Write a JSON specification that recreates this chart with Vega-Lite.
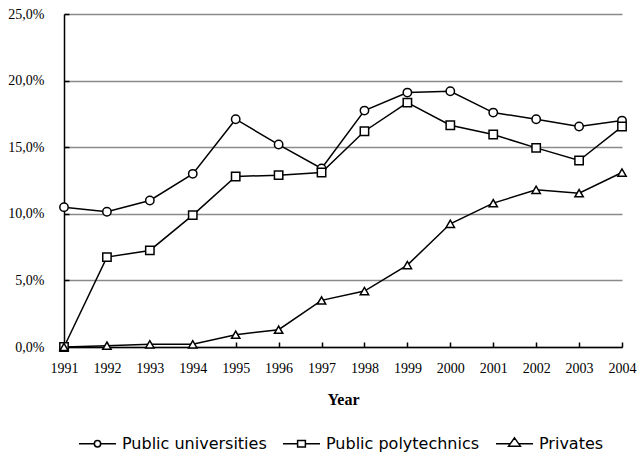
{
  "$schema": "https://vega.github.io/schema/vega-lite/v6.json",
  "autosize": "none",
  "padding": {"left": 64, "top": 14, "right": 18, "bottom": 110},
  "width": 558,
  "height": 333,
  "background": "white",
  "data": {"values": [
    {"year": 1991, "series": "Public universities", "value": 0.105},
    {"year": 1992, "series": "Public universities", "value": 0.1015},
    {"year": 1993, "series": "Public universities", "value": 0.110},
    {"year": 1994, "series": "Public universities", "value": 0.130},
    {"year": 1995, "series": "Public universities", "value": 0.171},
    {"year": 1996, "series": "Public universities", "value": 0.152},
    {"year": 1997, "series": "Public universities", "value": 0.134},
    {"year": 1998, "series": "Public universities", "value": 0.1775},
    {"year": 1999, "series": "Public universities", "value": 0.191},
    {"year": 2000, "series": "Public universities", "value": 0.192},
    {"year": 2001, "series": "Public universities", "value": 0.176},
    {"year": 2002, "series": "Public universities", "value": 0.171},
    {"year": 2003, "series": "Public universities", "value": 0.1655},
    {"year": 2004, "series": "Public universities", "value": 0.170},
    {"year": 1991, "series": "Public polytechnics", "value": 0.0},
    {"year": 1992, "series": "Public polytechnics", "value": 0.0675},
    {"year": 1993, "series": "Public polytechnics", "value": 0.0725},
    {"year": 1994, "series": "Public polytechnics", "value": 0.099},
    {"year": 1995, "series": "Public polytechnics", "value": 0.128},
    {"year": 1996, "series": "Public polytechnics", "value": 0.129},
    {"year": 1997, "series": "Public polytechnics", "value": 0.131},
    {"year": 1998, "series": "Public polytechnics", "value": 0.162},
    {"year": 1999, "series": "Public polytechnics", "value": 0.1835},
    {"year": 2000, "series": "Public polytechnics", "value": 0.1665},
    {"year": 2001, "series": "Public polytechnics", "value": 0.1595},
    {"year": 2002, "series": "Public polytechnics", "value": 0.1495},
    {"year": 2003, "series": "Public polytechnics", "value": 0.140},
    {"year": 2004, "series": "Public polytechnics", "value": 0.1655},
    {"year": 1991, "series": "Privates", "value": 0.0},
    {"year": 1992, "series": "Privates", "value": 0.001},
    {"year": 1993, "series": "Privates", "value": 0.002},
    {"year": 1994, "series": "Privates", "value": 0.002},
    {"year": 1995, "series": "Privates", "value": 0.0092},
    {"year": 1996, "series": "Privates", "value": 0.013},
    {"year": 1997, "series": "Privates", "value": 0.035},
    {"year": 1998, "series": "Privates", "value": 0.042},
    {"year": 1999, "series": "Privates", "value": 0.0615},
    {"year": 2000, "series": "Privates", "value": 0.0925},
    {"year": 2001, "series": "Privates", "value": 0.108},
    {"year": 2002, "series": "Privates", "value": 0.118},
    {"year": 2003, "series": "Privates", "value": 0.1155},
    {"year": 2004, "series": "Privates", "value": 0.131}
  ]},
  "encoding": {
    "x": {
      "field": "year", "type": "quantitative",
      "scale": {"domain": [1991, 2004], "nice": false, "zero": false},
      "axis": {
        "title": "Year",
        "values": [1991,1992,1993,1994,1995,1996,1997,1998,1999,2000,2001,2002,2003,2004],
        "format": "d",
        "grid": false,
        "domainColor": "black", "domainWidth": 1.5,
        "tickColor": "black", "tickWidth": 1.5, "tickSize": -5,
        "labelFont": "Liberation Serif", "labelFontSize": 14, "labelColor": "black",
        "labelPadding": 19,
        "labelFlush": false,
        "titleFont": "Liberation Serif", "titleFontSize": 16, "titleFontWeight": "bold", "titleColor": "black",
        "titlePadding": 16
      }
    },
    "y": {
      "field": "value", "type": "quantitative",
      "scale": {"domain": [0, 0.25], "nice": false},
      "axis": {
        "title": null,
        "values": [0, 0.05, 0.10, 0.15, 0.20, 0.25],
        "format": ".1%",
        "grid": true, "gridColor": "#8a8a8a", "gridWidth": 1.5,
        "domainColor": "black", "domainWidth": 1.5,
        "tickColor": "black", "tickWidth": 1.5, "tickSize": -5,
        "labelFont": "Liberation Serif", "labelFontSize": 14, "labelColor": "black",
        "labelPadding": 25
      }
    }
  },
  "layer": [
    {
      "mark": {"type": "line", "color": "black", "strokeWidth": 1.5},
      "encoding": {"detail": {"field": "series"}}
    },
    {
      "mark": {"type": "point", "filled": true, "fill": "white", "stroke": "black", "strokeWidth": 1.5, "opacity": 1, "size": 70},
      "encoding": {
        "shape": {
          "field": "series", "type": "nominal",
          "scale": {"domain": ["Public universities", "Public polytechnics", "Privates"], "range": ["circle", "square", "triangle-up"]},
          "legend": null
        }
      }
    },
    {
      "transform": [{"filter": "datum.year < 0"}],
      "mark": {"type": "point", "filled": true, "fill": "white", "stroke": "black", "strokeWidth": 1.5, "opacity": 1},
      "encoding": {
        "shape": {
          "field": "series", "type": "nominal",
          "scale": {
            "domain": ["Public universities", "Public polytechnics", "Privates"],
            "range": [
              "M-1,0L-0.17,0M0.17,0L1,0M0.17,0C0.17,0.094 0.094,0.17 0,0.17C-0.094,0.17 -0.17,0.094 -0.17,0C-0.17,-0.094 -0.094,-0.17 0,-0.17C0.094,-0.17 0.17,-0.094 0.17,0Z",
              "M-1,0L-0.21,0M0.21,0L1,0M-0.21,-0.17L0.21,-0.17L0.21,0.17L-0.21,0.17Z",
              "M-1,0L-0.23,0M0.23,0L1,0M0,-0.32L0.32,0.13L-0.32,0.13Z"
            ]
          },
          "legend": {
            "title": null,
            "orient": "none",
            "direction": "horizontal",
            "legendX": 14,
            "legendY": 410,
            "symbolSize": 1369,
            "symbolStrokeWidth": 1.5,
            "labelFont": "DejaVu Sans", "labelFontSize": 16, "labelColor": "black",
            "labelOffset": 5,
            "columnPadding": 13,
            "encode": {
              "symbols": {
                "stroke": {"value": "black"},
                "fill": {"value": "white"},
                "strokeWidth": {"value": 1.5},
                "opacity": {"value": 1},
                "fillOpacity": {"value": 1},
                "strokeOpacity": {"value": 1}
              }
            }
          }
        }
      }
    }
  ],
  "resolve": {"scale": {"shape": "independent"}, "legend": {"shape": "independent"}},
  "config": {
    "view": {"stroke": null},
    "font": "Liberation Serif",
    "locale": {"number": {"decimal": ",", "thousands": ".", "grouping": [3], "currency": ["", " €"]}},
    "axis": {"labelFont": "Liberation Serif", "titleFont": "Liberation Serif"},
    "axisY": {"labelFont": "Liberation Serif"}
  }
}
